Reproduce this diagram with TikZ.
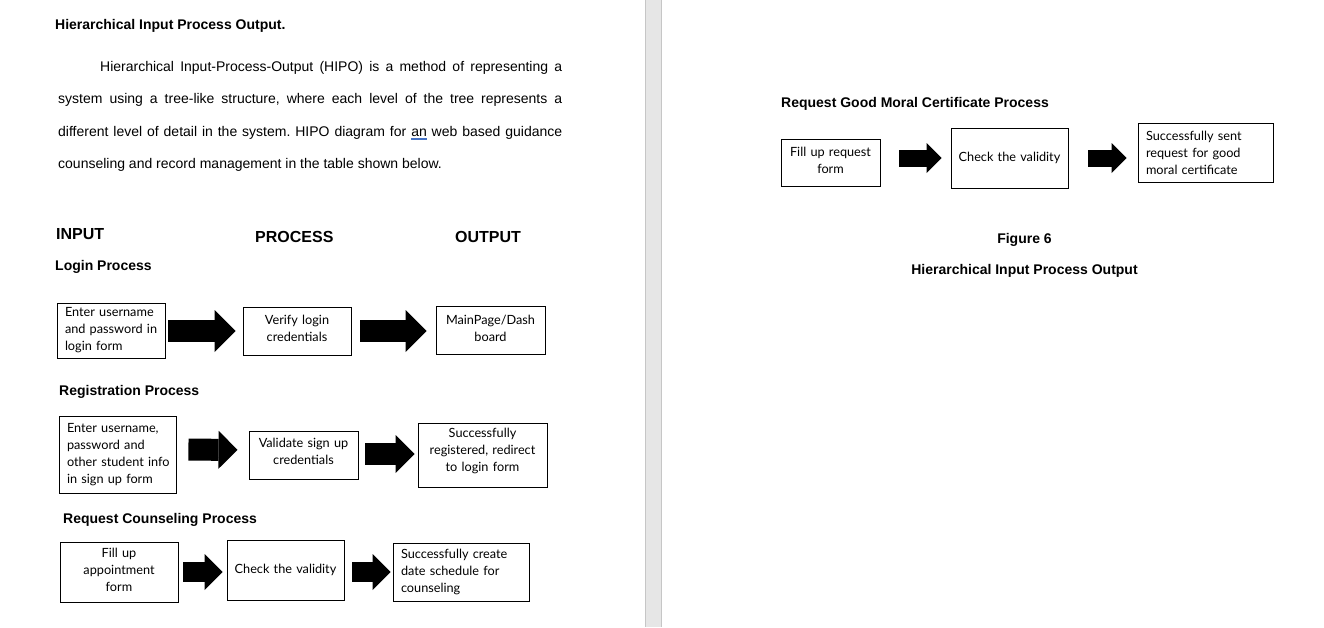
\documentclass[tikz,border=0pt]{standalone}
\usepackage{fontspec}
\setmainfont{Liberation Sans}
\newfontfamily\boxfont{Lato}
\usetikzlibrary{arrows.meta}
\definecolor{gapgray}{RGB}{230,230,230}
\definecolor{gapline}{RGB}{198,198,198}
\definecolor{grammarblue}{RGB}{68,114,196}
\newcommand{\gram}[1]{\setbox0\hbox{#1}\rlap{\color{grammarblue}\rule[-2.2pt]{\wd0}{0.6pt}}\rlap{\color{grammarblue}\rule[-3.8pt]{\wd0}{0.6pt}}#1}
\newcommand{\drop}[1]{\rule[-#1]{0pt}{#1}}
\frenchspacing

\begin{document}
\begin{tikzpicture}[x=1pt,y=-1pt,
  every node/.style={inner sep=0pt},
  body/.style={anchor=base west,font=\fontsize{14}{17}\selectfont},
  heading/.style={anchor=base west,font=\bfseries\fontsize{14}{17}\selectfont},
  column/.style={anchor=base west,font=\bfseries\fontsize{16}{19}\selectfont},
  box/.style={draw,line width=0.9pt,inner ysep=0pt,
    font=\boxfont\fontsize{12.7}{17}\selectfont},
  boxl/.style={box,inner xsep=8pt,align=left},
  boxc/.style={box,inner xsep=4pt,align=center},
  fatA/.style={line width=22pt,-{Triangle[length=21pt,width=42pt,line width=0pt]}},
  fatB/.style={line width=22pt,-{Triangle[length=19pt,width=38pt,line width=0pt]}},
  fatC/.style={line width=20pt,-{Triangle[length=18pt,width=36pt,line width=0pt]}},
  fatD/.style={line width=17pt,-{Triangle[length=15pt,width=30pt,line width=0pt]}}]
\useasboundingbox (0,0) rectangle (1324,627);

\fill[gapgray] (645,0) rectangle (662,627);
\draw[gapline,line width=1pt] (645.5,0) -- (645.5,627) (661.5,0) -- (661.5,627);

\node[heading] (title) at (55,29) {Hierarchical Input Process Output.};
\node[body] (para1) at (100,71) {\hbox to 462pt{Hierarchical Input-Process-Output (HIPO) is a method of representing a}};
\node[body] (para2) at (58,103) {\hbox to 504pt{system using a tree-like structure, where each level of the tree represents a}};
\node[body] (para3) at (58,136) {\hbox to 504pt{different level of detail in the system. HIPO diagram for \gram{an} web based guidance}};
\node[body] (para4) at (58,168) {counseling and record management in the table shown below.};

\node[column] (input) at (56,239) {INPUT};
\node[column] (process) at (255,242) {PROCESS};
\node[column] (output) at (455,242) {OUTPUT};

\node[heading] (login) at (55,270) {Login Process};
\node[boxl,minimum width=108pt,minimum height=55pt,text width=92pt] (enter) at (111,330.5) {Enter username\\\mbox{and password in}\\login form};
\node[boxc,minimum width=108pt,minimum height=48pt,text width=100pt] (verify) at (297,331) {Verify login\\credentials\drop{6pt}};
\node[boxc,minimum width=109pt,minimum height=48pt,text width=101pt] (dash) at (490.5,330) {MainPage/Dash\\board\drop{4pt}};
\draw[fatA,shorten <=3pt,shorten >=7pt] (enter.east |- verify.west) -- (verify.west);
\draw[fatA,shorten <=9pt,shorten >=9pt] (verify.east) -- (verify.east -| dash.west);

\node[heading] (registration) at (59,395) {Registration Process};
\node[boxl,minimum width=117pt,minimum height=77pt,text width=101pt] (signup) at (117.5,454.5) {Enter username,\\password and\\\mbox{other student info}\\in sign up form};
\node[boxc,minimum width=109pt,minimum height=48pt,text width=101pt] (validate) at (303.5,455) {Validate sign up\\credentials\drop{8pt}};
\node[boxc,minimum width=129pt,minimum height=64pt,text width=121pt] (registered) at (482.5,455) {Successfully\\registered, redirect\\to login form\drop{10.5pt}};
\draw[fatB,shorten <=12pt,shorten >=11pt] ([yshift=5pt]signup.east) -- ([yshift=5pt]validate.west);
\draw[fatB,shorten <=7pt,shorten >=3pt] ([yshift=1pt]validate.east) -- ([yshift=1pt]registered.west);

\node[heading] (counseling) at (63,523) {Request Counseling Process};
\node[boxc,minimum width=118pt,minimum height=60pt,text width=110pt] (appoint) at (119,572) {Fill up\\appointment\\form\drop{4pt}};
\node[boxc,minimum width=117pt,minimum height=60pt,text width=109pt] (check) at (285.5,570) {\mbox{Check the validity}};
\node[boxl,minimum width=136pt,minimum height=58pt,text width=120pt] (schedule) at (461,572) {Successfully create\\date schedule for\\counseling};
\draw[fatC,shorten <=5pt,shorten >=4pt] (appoint.east) -- (appoint.east -| check.west);
\draw[fatC,shorten <=8pt,shorten >=2pt] (check.east |- schedule.west) -- (schedule.west);

\node[heading] (moral) at (781,107) {Request Good Moral Certificate Process};
\node[boxc,minimum width=99pt,minimum height=47pt,text width=91pt] (request) at (830.5,162.5) {Fill up request\\form\drop{5pt}};
\node[boxc,minimum width=117pt,minimum height=60pt,text width=109pt] (moralcheck) at (1009.5,158) {\mbox{Check the validity}};
\node[boxl,minimum width=135pt,minimum height=59pt,text width=119pt] (moralsent) at (1205.5,152.5) {Successfully sent\\request for good\\moral certificate};
\draw[fatD,shorten <=19pt,shorten >=9pt] (request.east |- moralcheck.west) -- (moralcheck.west);
\draw[fatD,shorten <=20pt,shorten >=11pt] (moralcheck.east) -- (moralcheck.east -| moralsent.west);

\node[heading,anchor=base] (figure) at (1024.5,243) {Figure 6};
\node[heading,anchor=base] (caption) at (1024.5,274) {Hierarchical Input Process Output};
\end{tikzpicture}
\end{document}
